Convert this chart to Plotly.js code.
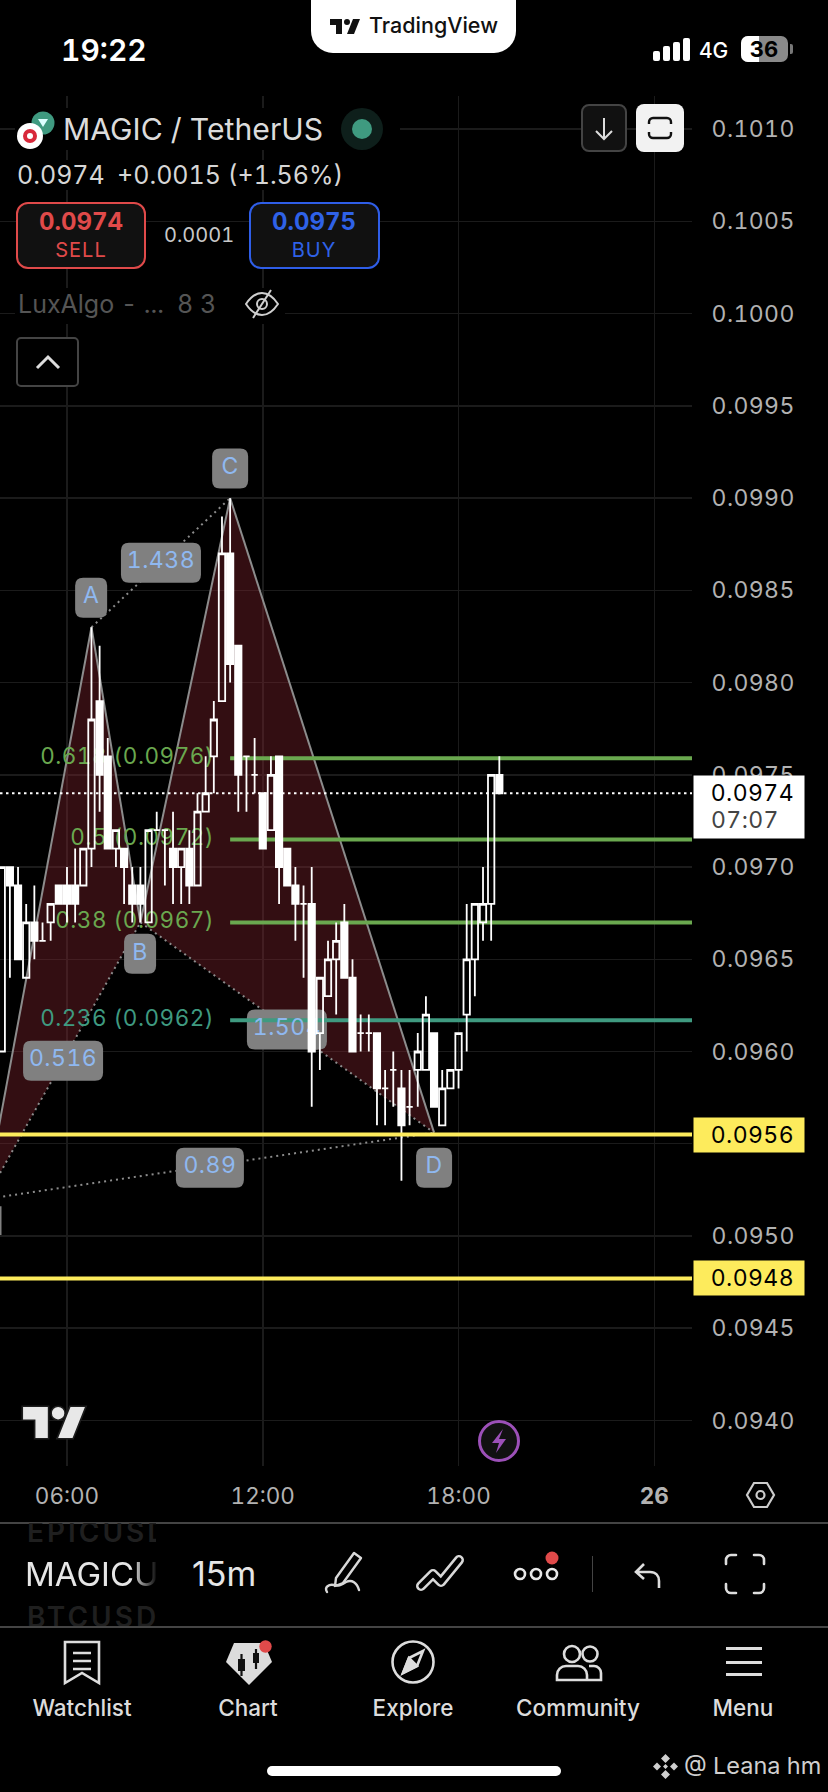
<!DOCTYPE html>
<html>
<head>
<meta charset="utf-8">
<script src="https://cdn.plot.ly/plotly-3.0.1.min.js"></script>
<style>
html,body{margin:0;padding:0;background:#000;width:828px;height:1792px;overflow:hidden;font-family:Inter,"Noto Sans",sans-serif;font-variant-numeric:tabular-nums;font-feature-settings:"tnum"}
svg text{font-variant-numeric:tabular-nums;font-feature-settings:"tnum"}
.ytick text,.annotation text{letter-spacing:.4px}
.textpoint text{letter-spacing:.5px}
#chart{position:absolute;left:0;top:0;width:828px;height:1792px}
#ui{position:absolute;left:0;top:0;width:828px;height:1792px;pointer-events:none}
.t{position:absolute;white-space:nowrap;transform:translateY(-50%);line-height:1.1}
.c{transform:translate(-50%,-50%)}
.box{position:absolute;box-sizing:border-box}
svg.i{position:absolute;overflow:visible}
</style>
</head>
<body>
<div id="chart"></div>
<div id="ui"></div>
<script>
// ---- candles (time in hours of the day, 15m bars) ----
const candleHours = [4,4.25,4.5,4.75,5,5.25,5.5,5.75,6,6.25,6.5,6.75,7,7.25,7.5,7.75,8,8.25,8.5,8.75,9,9.25,9.5,9.75,10,10.25,10.5,10.75,11,11.25,11.5,11.75,12,12.25,12.5,12.75,13,13.25,13.5,13.75,14,14.25,14.5,14.75,15,15.25,15.5,15.75,16,16.25,16.5,16.75,17,17.25,17.5,17.75,18,18.25,18.5,18.75,19,19.25];
const openPrices  = [.0960,.0970,.0969,.0964,.0967,.0966,.0967,.0969,.0969,.0969,.0969,.0971,.0979,.0976,.0971,.0971,.0969,.0969,.0967,.0972,.0972,.0971,.0970,.0971,.0969,.0973,.0976,.0979,.0987,.0982,.0976,.0975,.0974,.0972,.0976,.0971,.0969,.0968,.0968,.0961,.0963,.0965,.0967,.0964,.0961,.0961,.0961,.0958,.0959,.0958,.0957,.0959,.0959,.0961,.0956,.0958,.0959,.0962,.0965,.0967,.0968,.0975];
const closePrices = [.0970,.0969,.0965,.0967,.0966,.0966,.0968,.0968,.0968,.0968,.0971,.0978,.0975,.0971,.0972,.0970,.0968,.0968,.0972,.0972,.0972,.0970,.0971,.0969,.0973,.0974,.0978,.0987,.0981,.0975,.0976,.0975,.0971,.0975,.0970,.0969,.0968,.0968,.0960,.0964,.0965,.0966,.0964,.0960,.0961,.0961,.0958,.0958,.0959,.0956,.0957,.0960,.0962,.0957,.0958,.0959,.0961,.0965,.0968,.0968,.0975,.0974];
const highPrices  = [.0970,.0970,.0970,.0968,.0969,.0967,.0968,.0969,.0970,.0971,.0971,.0983,.0982,.0977,.0972,.0971,.0970,.0970,.0972,.0973,.0972,.0973,.0971,.0972,.0974,.0976,.0979,.0989,.0990,.0982,.0976,.0977,.0974,.0976,.0976,.0971,.0970,.0969,.0970,.0964,.0966,.0967,.0968,.0965,.0962,.0962,.0961,.0959,.0960,.0959,.0959,.0961,.0963,.0961,.0959,.0959,.0961,.0968,.0968,.0970,.0975,.0976];
const lowPrices   = [.0960,.0964,.0965,.0964,.0965,.0966,.0966,.0968,.0967,.0967,.0969,.0970,.0973,.0971,.0970,.0968,.0967,.0967,.0967,.0972,.0969,.0968,.0968,.0968,.0969,.0973,.0974,.0979,.0980,.0973,.0973,.0974,.0971,.0972,.0968,.0969,.0966,.0964,.0957,.0959,.0963,.0962,.0964,.0960,.0960,.0960,.0956,.0956,.0957,.0953,.0956,.0957,.0959,.0957,.0956,.0958,.0958,.0960,.0963,.0966,.0966,.0974];

// ---- XABCD harmonic pattern ----
const patternNames  = ['X','A','B','C','D'];
const patternHours  = [3.5,6.75,8.25,11,17.25];
const patternPrices = [.09520,.0983,.0967,.0990,.09556];

// ---- pattern labels ----
const labelTexts  = ['A','C','1.438','B','0.516','0.89','1.504','D'];
const labelHours  = [6.74,11,8.88,8.24,5.88,10.38,12.74,17.25];
const labelPrices = [.09846,.09916,.09865,.09653,.09595,.09537,.09612,.09537];
const labelWidths = [32,36,80,32,80,68,80,36];

// ---- fibonacci levels ----
const fibTexts  = ['0.618 (0.0976)','0.5 (0.0972)','0.38 (0.0967)','0.236 (0.0962)'];
const fibPrices = [.09759,.09715,.09670,.09617];
const fibColors = ['#6aa84f','#6aa84f','#6aa84f','#3f9a80'];
const fibStartHour = 11;

// ---- price levels ----
const lastPrice = .0974;
const alertLevels = [.09555,.09477];
const alertTexts  = ['0.0956','0.0948'];

// ---- axes ----
const priceTicks = [.0940,.0945,.0950,.0955,.0960,.0965,.0970,.0975,.0980,.0985,.0990,.0995,.1000,.1005,.1010];
const priceTickText = ['0.0940','0.0945','0.0950','0.0955','0.0960','0.0965','0.0970','0.0975','0.0980','0.0985','0.0990','0.0995','0.1000','0.1005','0.1010'];
const timeTicks = [6,12,18,24];
const timeTickText = ['06:00','12:00','18:00','<b>26</b>'];
const xRange = [3.947,25.155];
const yRange = [.093753,.10118];

const FONT = 'Inter, "Noto Sans", sans-serif';
const GRID = '#1b1b1b';
const LABEL_H = 40, LABEL_R = 8;

function roundRectPath(w,h,r){
  const a=w/2,b=h/2;
  return `M ${-a+r} ${-b} L ${a-r} ${-b} Q ${a} ${-b} ${a} ${-b+r} L ${a} ${b-r} Q ${a} ${b} ${a-r} ${b} L ${-a+r} ${b} Q ${-a} ${b} ${-a} ${b-r} L ${-a} ${-b+r} Q ${-a} ${-b} ${-a+r} ${-b} Z`;
}
function polyPath(idx){
  return idx.map((k,i)=>(i?'L ':'M ')+patternHours[k]+' '+patternPrices[k]).join(' ')+' Z';
}
function segment(a,b,color,dash,width){
  return {type:'line',layer:'between',xref:'x',yref:'y',x0:patternHours[a],y0:patternPrices[a],x1:patternHours[b],y1:patternPrices[b],
    line:{color:color,dash:dash,width:width}};
}
const FILL='rgba(128,36,46,0.40)';
const shapes=[
  {type:'path',layer:'between',xref:'x',yref:'y',path:polyPath([0,1,2]),fillcolor:FILL,line:{width:0}},
  {type:'path',layer:'between',xref:'x',yref:'y',path:polyPath([2,3,4]),fillcolor:FILL,line:{width:0}},
  segment(0,1,'#8c8c8c','solid',2),segment(1,2,'#8c8c8c','solid',2),segment(2,3,'#8c8c8c','solid',2),segment(3,4,'#8c8c8c','solid',2),
  segment(0,2,'#8c8c8c','2px,4px',2),segment(2,4,'#8c8c8c','2px,4px',2),segment(1,3,'#8c8c8c','2px,4px',2),segment(0,4,'#8c8c8c','2px,4px',2),
];
labelTexts.forEach((t,i)=>shapes.push({type:'path',layer:'between',xref:'x',yref:'y',xsizemode:'pixel',ysizemode:'pixel',
  xanchor:labelHours[i],yanchor:labelPrices[i],path:roundRectPath(labelWidths[i],LABEL_H,LABEL_R),fillcolor:'#808080',line:{width:0}}));
// small clipped label at the far left edge
shapes.push({type:'path',layer:'between',xref:'paper',yref:'y',xsizemode:'pixel',ysizemode:'pixel',xanchor:0,yanchor:.09508,path:roundRectPath(3,30,0),fillcolor:'#808080',line:{width:0}});

const traces=[];
// fib lines + their text sit on the main subplot, under the candles
fibPrices.forEach((p,i)=>traces.push({type:'scatter',mode:'lines',x:[fibStartHour,xRange[1]],y:[p,p],line:{color:fibColors[i],width:4},hoverinfo:'skip',showlegend:false}));
traces.push({type:'scatter',mode:'text',x:fibPrices.map(()=>fibStartHour-.49),y:fibPrices,text:fibTexts,textposition:'middle left',
  textfont:{family:FONT,size:22.5,color:fibColors},hoverinfo:'skip',showlegend:false});
traces.push({type:'scatter',mode:'text',x:labelHours,y:labelPrices,text:labelTexts,textposition:'middle center',
  textfont:{family:FONT,size:23,color:'#8fb8f0'},hoverinfo:'skip',showlegend:false});
// candles on an overlaying subplot so they are drawn on top
traces.push({type:'candlestick',xaxis:'x2',yaxis:'y2',x:candleHours,open:openPrices,high:highPrices,low:lowPrices,close:closePrices,whiskerwidth:0,
  increasing:{line:{color:'#ffffff',width:1.8},fillcolor:'rgba(0,0,0,0)'},
  decreasing:{line:{color:'#ffffff',width:1.8},fillcolor:'#ffffff'},hoverinfo:'skip',showlegend:false});
alertLevels.forEach(p=>traces.push({type:'scatter',mode:'lines',xaxis:'x2',yaxis:'y2',x:xRange,y:[p,p],line:{color:'#fdeb5c',width:4},hoverinfo:'skip',showlegend:false}));
traces.push({type:'scatter',mode:'lines',xaxis:'x2',yaxis:'y2',x:xRange,y:[lastPrice,lastPrice],line:{color:'#ffffff',width:2,dash:'2.5px,3.5px'},hoverinfo:'skip',showlegend:false});

const PLOT_W=692;
const annotations=[];
alertLevels.forEach((p,i)=>{
  annotations.push({xref:'paper',yref:'y',x:749/PLOT_W,y:p,xanchor:'center',yanchor:'middle',showarrow:false,
    text:'&nbsp;',width:110,height:34,bgcolor:'#fdeb5c',borderpad:0,font:{family:FONT,size:23,color:'#000'}});
  annotations.push({xref:'paper',yref:'y',x:710/PLOT_W,y:p,xanchor:'left',yanchor:'middle',showarrow:false,
    text:alertTexts[i],font:{family:FONT,size:23,color:'#000'}});
});
annotations.push({xref:'paper',yref:'y',x:749/PLOT_W,y:lastPrice,xanchor:'center',yanchor:'middle',yshift:-14,showarrow:false,
  text:'&nbsp;',width:110,height:62,bgcolor:'#ffffff',borderpad:0,font:{family:FONT,size:23,color:'#000'}});
annotations.push({xref:'paper',yref:'y',x:710/PLOT_W,y:lastPrice,xanchor:'left',yanchor:'middle',showarrow:false,
  text:'0.0974',font:{family:FONT,size:23,color:'#000'}});
annotations.push({xref:'paper',yref:'y',x:710/PLOT_W,y:lastPrice,xanchor:'left',yanchor:'middle',yshift:-27,showarrow:false,
  text:'07:07',font:{family:FONT,size:23,color:'#444'}});

const layout={
  width:828,height:1792,margin:{l:0,r:136,t:96,b:326,pad:0},
  paper_bgcolor:'#000',plot_bgcolor:'#000',showlegend:false,boxmode:'overlay',boxgap:0.22,boxgroupgap:0,dragmode:false,
  font:{family:FONT,color:'#b2b2b2'},
  xaxis:{type:'linear',range:xRange,tickmode:'array',tickvals:timeTicks,ticktext:timeTickText,showgrid:true,gridcolor:GRID,gridwidth:1.5,zeroline:false,showline:false,
    ticks:'outside',ticklen:10,tickcolor:'rgba(0,0,0,0)',tickfont:{family:FONT,size:22.5,color:'#b2b2b2'},rangeslider:{visible:false},fixedrange:true},
  yaxis:{type:'linear',range:yRange,side:'right',tickmode:'array',tickvals:priceTicks,ticktext:priceTickText,showgrid:true,gridcolor:GRID,gridwidth:1.5,zeroline:false,showline:false,
    ticks:'outside',ticklen:14,tickcolor:'rgba(0,0,0,0)',tickfont:{family:FONT,size:23,color:'#b2b2b2'},fixedrange:true},
  xaxis2:{type:'linear',overlaying:'x',range:xRange,visible:false,rangeslider:{visible:false},fixedrange:true,anchor:'y2'},
  yaxis2:{type:'linear',overlaying:'y',range:yRange,visible:false,side:'right',fixedrange:true,anchor:'x2'},
  shapes:shapes,annotations:annotations
};
Plotly.newPlot('chart',traces,layout,{displayModeBar:false,staticPlot:true});

// ---- app chrome around the chart ----
const TV='M14 6H2v6h6v9h6V6Zm12 15h-7l6-15h7l-6 15Zm-7-9a3 3 0 1 0 0-6 3 3 0 0 0 0 6Z';
function T(s,x,y,size,color,extra){return `<div class="t" style="left:${x}px;top:${y}px;font-size:${size}px;color:${color};${extra||''}">${s}</div>`}
function C(s,x,y,size,color,extra){return `<div class="t c" style="left:${x}px;top:${y}px;font-size:${size}px;color:${color};${extra||''}">${s}</div>`}
function B(x,y,w,h,style){return `<div class="box" style="left:${x}px;top:${y}px;width:${w}px;height:${h}px;${style}"></div>`}
let h='';
// status bar
h+=T('19:22',61,50,30,'#fff','font-weight:600');
h+=B(311,0,205,53,'background:#fff;border-radius:0 0 22px 22px');
h+=`<svg class="i" style="left:328px;top:16px" width="36" height="21" viewBox="1 3 34 21"><path d="${TV}" fill="#111"/></svg>`;
h+=T('TradingView',369,26,21.5,'#111','font-weight:500');
[[653,51,10],[663,46,15],[673,42,19],[683,38,23]].forEach(b=>h+=B(b[0],b[1],7,b[2],'background:#fff;border-radius:2px'));
h+=T('4G',699,51,21,'#fff','font-weight:500');
h+=B(741,36,47,26,'background:#8a8a8a;border-radius:7px');
h+=B(741,36,18,26,'background:#fff;border-radius:7px 0 0 7px');
h+=B(790,44,3,10,'background:#777;border-radius:0 2px 2px 0');
h+=C('36',764,49,22,'#000','font-weight:700');
// symbol header
h+=B(15,108,385,42,'background:#000');
h+=`<svg class="i" style="left:15px;top:110px" width="42" height="42" viewBox="0 0 42 42">
<circle cx="28" cy="13" r="11.5" fill="#3f9a80"/><path d="M23 9h10l-5 8z" fill="#dff"/><circle cx="15" cy="26" r="13" fill="#fff"/><circle cx="15" cy="26" r="7" fill="#d8283a"/><circle cx="15" cy="26" r="3" fill="#fff"/></svg>`;
h+=T('MAGIC / TetherUS',63,130,30.2,'#dcdcdc','font-weight:400');
h+=`<svg class="i" style="left:341px;top:108px" width="42" height="42"><circle cx="21" cy="21" r="21" fill="#0e1f1b"/><circle cx="21" cy="21" r="10" fill="#3f9a80"/></svg>`;
h+=B(581,104,46,48,'background:#111;border:2px solid #444;border-radius:8px');
h+=`<svg class="i" style="left:590px;top:115px" width="28" height="28" fill="none" stroke="#ddd" stroke-width="2"><path d="M14 3V24M6 16l8 8 8-8"/></svg>`;
h+=B(636,104,48,48,'background:#f2f2f2;border-radius:8px');
h+=`<svg class="i" style="left:648px;top:116px" width="24" height="24" fill="none" stroke="#111" stroke-width="2.4"><path d="M1 8V6a4 4 0 0 1 4-4h14a4 4 0 0 1 4 4v2M1 16v2a4 4 0 0 0 4 4h14a4 4 0 0 0 4-4v-2"/></svg>`;
h+=B(15,160,335,30,'background:#000');
h+=T('0.0974',17,176,25,'#d6d6d6');
h+=T('+0.0015 (+1.56%)',117,176,25,'#d6d6d6');
h+=B(16,202,130,67,'background:#111;border:2px solid #e04a4a;border-radius:12px');
h+=C('0.0974',81,222,24,'#e04a4a','font-weight:700');
h+=C('SELL',81,250,20,'#e04a4a','letter-spacing:1px');
h+=T('0.0001',164,235,20,'#c8c8c8');
h+=B(249,202,131,67,'background:#111;border:2px solid #2f5ee8;border-radius:12px');
h+=C('0.0975',314,222,24,'#2f62e8','font-weight:700');
h+=C('BUY',314,250,20,'#2f62e8','letter-spacing:1px');
h+=B(15,288,270,36,'background:#000');
h+=T('LuxAlgo - ...',18,305,25,'#555');
h+=T('8 3',177,305,25,'#555');
h+=`<svg class="i" style="left:244px;top:288px" width="36" height="32" fill="none" stroke="#cfcfcf" stroke-width="2"><path d="M2 16C8 7 13 5 18 5s10 2 16 11c-6 9-11 11-16 11S8 25 2 16Z"/><circle cx="18" cy="16" r="5"/><path d="M27 2 9 30"/></svg>`;
h+=B(16,337,63,50,'background:#000;border:2px solid #444;border-radius:5px');
h+=`<svg class="i" style="left:35px;top:354px" width="26" height="16" fill="none" stroke="#ddd" stroke-width="3"><path d="M2 14 13 3l11 11"/></svg>`;
// chart badges
h+=`<svg class="i" style="left:21px;top:1403px" width="66" height="39" viewBox="1 4.5 32 18"><path d="${TV}" fill="#e8e8e8" stroke="#1d1d1d" stroke-width="1.6" paint-order="stroke"/></svg>`;
h+=`<svg class="i" style="left:478px;top:1420px" width="42" height="42"><circle cx="21" cy="21" r="19.5" fill="#111" stroke="#9c50b8" stroke-width="3"/><path d="M25 9 14 23h7l-3 10 10-14h-7z" fill="#9c50b8"/></svg>`;
h+=`<svg class="i" style="left:746px;top:1482px" width="29" height="26" fill="none" stroke="#ccc" stroke-width="2.2"><path d="M8 1h13l7 12-7 12H8L1 13z"/><circle cx="14.5" cy="13" r="4"/></svg>`;
// dividers
h+=B(0,1522,828,1.5,'background:#444');
h+=B(0,1626,828,1.5,'background:#444');
// symbol roller + toolbar
h+=`<div style="position:absolute;left:25px;top:1523px;width:131px;height:103px;overflow:hidden">
<div class="t" style="left:2px;top:9px;font-size:28px;color:#1f1f1f;font-weight:600;letter-spacing:3px">EPICUSDT</div>
<div class="t" style="left:0;top:51px;font-size:33px;color:#e6e6e6;-webkit-mask-image:linear-gradient(90deg,#000 80%,transparent 100%);width:133px;overflow:hidden">MAGICUSDT</div>
<div class="t" style="left:2px;top:94px;font-size:28px;color:#1f1f1f;font-weight:600;letter-spacing:3px">BTCUSDT</div></div>`;
h+=T('15m',192,1574,34,'#e6e6e6','font-variant-numeric:normal;font-feature-settings:normal');
h+=`<svg class="i" style="left:324px;top:1550px" width="44" height="46" fill="none" stroke="#d8d8d8" stroke-width="2.4" stroke-linejoin="round" stroke-linecap="round"><path d="M12 28 30 3l7 5-18 25-8 3z"/><path d="M3 42c-3-5 2-8 7-7s6 1 12-3c6-3 11 1 13 8"/></svg>`;
h+=`<svg class="i" style="left:416px;top:1552px" width="50" height="44" fill="none" stroke-linecap="round" stroke-linejoin="round"><path d="M5 34 17 22l8 8 18-22" stroke="#d8d8d8" stroke-width="10"/><path d="M5 34 17 22l8 8 18-22" stroke="#000" stroke-width="5"/></svg>`;
[520,536,552].forEach(x=>h+=`<svg class="i" style="left:${x-7}px;top:1567px" width="14" height="14"><circle cx="7" cy="7" r="5" fill="none" stroke="#e8e8e8" stroke-width="2.6"/></svg>`);
h+=`<svg class="i" style="left:545px;top:1551px" width="14" height="14"><circle cx="7" cy="7" r="6.5" fill="#e04a4a"/></svg>`;
h+=B(592,1556,1,36,'background:#444');
h+=`<svg class="i" style="left:634px;top:1562px" width="30" height="28" fill="none" stroke="#ddd" stroke-width="2.6"><path d="M10 2 2 10l8 7M2 10h14c6 0 9 4 9 9v7"/></svg>`;
h+=`<svg class="i" style="left:724px;top:1553px" width="42" height="42" fill="none" stroke="#ddd" stroke-width="2.6" stroke-linecap="round"><path d="M2 11V7a5 5 0 0 1 5-5h5M30 2h5a5 5 0 0 1 5 5v4M2 31v4a5 5 0 0 0 5 5h5M30 40h5a5 5 0 0 0 5-5v-4"/></svg>`;
// tab bar
h+=`<svg class="i" style="left:63px;top:1640px" width="38" height="46" fill="none" stroke="#ddd" stroke-width="2.6"><path d="M2 2h34v41L19 33 2 43zM10 13h18M10 21h18M10 29h18" /></svg>`;
h+=`<svg class="i" style="left:224px;top:1641px" width="50" height="46"><path d="M10 2h30l8 19-23 23L2 21z" fill="#dcdcdc"/><rect x="14" y="18" width="7" height="12" fill="#111"/><path d="M17.5 13v22" stroke="#111" stroke-width="2.2"/><rect x="29" y="12" width="6" height="10" fill="#111"/><path d="M32 8v20" stroke="#111" stroke-width="2.2"/></svg>`;
h+=`<svg class="i" style="left:259px;top:1640px" width="13" height="13"><circle cx="6.5" cy="6.5" r="6.2" fill="#e04a4a"/></svg>`;
h+=`<svg class="i" style="left:390px;top:1639px" width="46" height="46" fill="none" stroke="#ddd" stroke-width="2.6"><circle cx="23" cy="23" r="20.5"/><path d="M33 12 27 27 13 34 19 19z" fill="none"/><path d="M19 19 13 34 27 27z" fill="#ddd"/></svg>`;
h+=`<svg class="i" style="left:555px;top:1644px" width="48" height="38" fill="none" stroke="#ddd" stroke-width="2.6"><circle cx="17" cy="10" r="8"/><circle cx="35" cy="10" r="7.5"/><path d="M2 36v-5a9 9 0 0 1 9-9h12a9 9 0 0 1 9 9v5zM34 22h5a7 7 0 0 1 7 7v7H33"/></svg>`;
[1648,1662,1674].forEach(y=>h+=B(726,y-1.5,36,3,'background:#ddd'));
[['Watchlist',82],['Chart',248],['Explore',413],['Community',578],['Menu',743]].forEach(a=>h+=C(a[0],a[1],1708,22.5,'#dcdcdc','font-weight:500'));
// home bar + watermark
h+=B(267,1766,294,10,'background:#fff;border-radius:5px');
h+=`<svg class="i" style="left:652px;top:1753px" width="27" height="27" fill="#cfcfcf"><path d="M13.5 1 18 5.5 13.5 10 9 5.5zM13.5 17 18 21.5 13.5 26 9 21.5zM5 9.5 9 13.5 5 17.5 1 13.5zM22 9.5 26 13.5 22 17.5 18 13.5zM13.5 11 16 13.5 13.5 16 11 13.5z"/></svg>`;
h+=T('@ Leana hm',684,1766,23.5,'#cfcfcf');
document.getElementById('ui').innerHTML=h;
</script>
</body>
</html>
